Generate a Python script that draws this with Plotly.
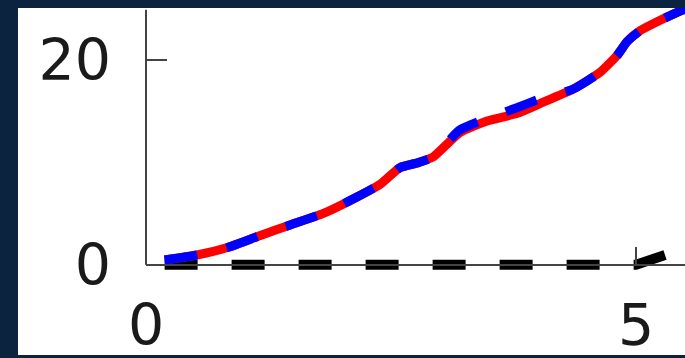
import plotly.graph_objects as go

# Data
x_red = [0.19, 0.52, 0.84, 1.16, 1.47, 1.81, 2.08, 2.39, 2.59, 2.77, 2.93, 3.20, 3.48,
         3.79, 4.02, 4.36, 4.63, 4.81, 4.91, 5.04, 5.21, 5.42, 5.56]
y_red = [0.47, 0.95, 1.71, 2.84, 3.89, 5.02, 6.26, 7.87, 9.48, 9.95, 10.52, 12.89, 14.03,
         14.79, 15.73, 17.16, 18.77, 20.47, 21.8, 22.84, 23.7, 24.64, 25.2]
x_blue = x_red
y_blue = [0.47, 0.95, 1.71, 2.84, 3.89, 5.02, 6.26, 7.87, 9.48, 9.95, 10.52, 13.15, 14.3,
          15.35, 16.2, 17.16, 18.77, 20.47, 21.8, 22.84, 23.7, 24.64, 25.2]
x_black = [0.19, 5.0, 5.56]
y_black = [0.0, 0.0, 1.8]

x_ticks = [0, 5]
y_ticks = [0, 20]
x_range = [0, 5.5]
y_range = [-1.0, 25.07]

# position of y=0 inside the plot area (fraction of its height)
y0_frac = (0 - y_range[0]) / (y_range[1] - y_range[0])
axis_color = "#444"

fig = go.Figure()
fig.add_trace(go.Scatter(x=x_black, y=y_black, mode="lines",
                         line=dict(color="black", width=10, dash="33px,34px"),
                         hoverinfo="skip"))
fig.add_trace(go.Scatter(x=x_red, y=y_red, mode="lines",
                         line=dict(color="#ff0000", width=9, shape="spline", smoothing=0.5),
                         hoverinfo="skip"))
fig.add_trace(go.Scatter(x=x_blue, y=y_blue, mode="lines",
                         line=dict(color="#0000ff", width=9, dash="33px,30px",
                                   shape="spline", smoothing=0.5),
                         hoverinfo="skip"))

font = dict(family="DejaVu Sans, sans-serif", size=57, color="#1a1a1a")

fig.update_layout(
    width=685, height=358,
    margin=dict(l=146, r=0, t=8, b=75, pad=0),
    paper_bgcolor="#0c2340",
    plot_bgcolor="white",
    showlegend=False,
    font=font,
    shapes=[
        dict(type="rect", xref="paper", yref="paper",
             x0=-0.2375, x1=1.01, y0=-0.3, y1=1.0,
             fillcolor="white", line=dict(width=0), layer="below"),
        dict(type="line", xref="paper", yref="paper",
             x0=0, x1=0, y0=y0_frac, y1=0.993,
             line=dict(color=axis_color, width=2), layer="below"),
    ],
    xaxis=dict(range=x_range, tickvals=x_ticks, ticktext=[str(v) for v in x_ticks],
               anchor="free", position=y0_frac,
               showgrid=False, zeroline=False, showline=True, linecolor=axis_color,
               linewidth=2, ticks="inside", ticklen=17, tickwidth=2, tickcolor=axis_color,
               ticklabelstandoff=11, tickfont=font),
    yaxis=dict(range=y_range, tickvals=y_ticks, ticktext=[str(v) for v in y_ticks],
               showgrid=False, zeroline=False, showline=False,
               ticks="inside", ticklen=21, tickwidth=2, tickcolor=axis_color,
               ticklabelstandoff=34, tickfont=font),
)

fig.write_html("out.html")
